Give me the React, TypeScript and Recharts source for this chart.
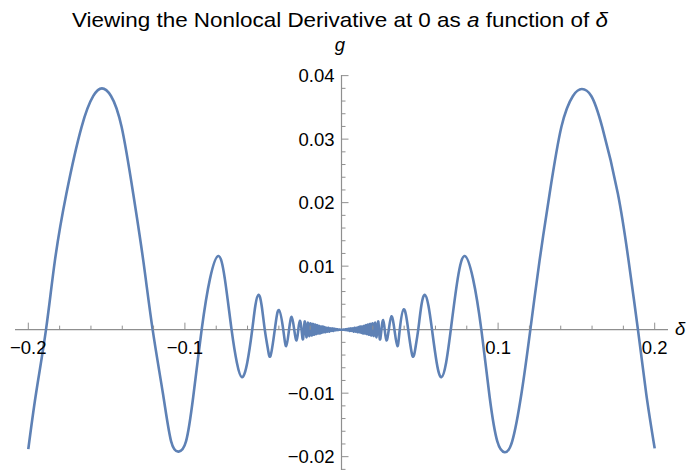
import React from 'react';
import { LineChart, Line, XAxis, YAxis, ReferenceLine, ReferenceDot } from 'recharts';

// g(δ) for δ < 0
const leftDelta = [
  -0.2, -0.1951, -0.1887, -0.183, -0.1757, -0.166, -0.1585, -0.153, -0.1472, -0.1404, -0.133, -0.1266,
  -0.1206, -0.114, -0.1088, -0.104, -0.0993, -0.0947, -0.0893, -0.084, -0.0787, -0.0745, -0.0702, -0.0668,
  -0.0636, -0.0602, -0.057, -0.055, -0.053, -0.051, -0.049, -0.0471, -0.0453, -0.0426,
  -0.04, -0.0372, -0.0353, -0.0335, -0.0318, -0.0302, -0.0287, -0.0276, -0.0266, -0.0255,
  -0.0245, -0.0234, -0.0224, -0.0215, -0.0206, -0.0198, -0.019, -0.0183, -0.0176, -0.0169,
  -0.0162, -0.0156, -0.015, -0.0144, -0.0138, -0.0132, -0.0126, -0.012, -0.0114, -0.0108,
  -0.0102, -0.0096, -0.009, -0.0084, -0.0078, -0.0072, -0.0066, -0.006, -0.0054, -0.0048,
  -0.0042, -0.0036, -0.003, -0.0024, -0.0018, -0.0012, -0.0006,
];
const leftG = [
  -0.0188, -0.0101, 0, 0.0109, 0.0214, 0.0319, 0.0368, 0.038, 0.0368, 0.0319, 0.0214, 0.0109,
  0, -0.0101, -0.0176, -0.0192, -0.0176, -0.0106, 0, 0.008, 0.0116, 0.008, 0, -0.0052,
  -0.0075, -0.0052, 0, 0.0038, 0.0055, 0.0038, 0, -0.0029, -0.0041, 0,
  0.0031, 0, -0.0026, 0, 0.002, 0, -0.0017, 0, 0.0014, 0,
  -0.0014, 0.0013, -0.0012, 0.0011, -0.001, 0.001, -0.0009, 0.0009, -0.0008, 0.0008,
  -0.0007, 0.0007, -0.0006, 0.0006, -0.0006, 0.0005, -0.0005, 0.0005, -0.0004, 0.0004,
  -0.0004, 0.0003, -0.0003, 0.0003, -0.0003, 0.0002, -0.0002, 0.0002, -0.0002, 0.00015,
  -0.00012, 0.0001, -0.00008, 0.00006, -0.00004, 0.00002, -0.00001,
];

// g(δ) for δ ≥ 0
const rightDelta = [
  0, 0.0006, 0.0012, 0.0018, 0.0024, 0.003, 0.0036, 0.0042, 0.0048, 0.0054,
  0.006, 0.0066, 0.0072, 0.0078, 0.0084, 0.009, 0.0096, 0.0102, 0.0108, 0.0114,
  0.012, 0.0126, 0.0132, 0.0138, 0.0144, 0.015, 0.0156, 0.0162, 0.0169, 0.0176,
  0.0183, 0.019, 0.0198, 0.0206, 0.0215, 0.0224, 0.0234, 0.0244, 0.0255, 0.0266,
  0.0276, 0.0287, 0.0302, 0.0319, 0.0338, 0.0357, 0.0372, 0.0398, 0.0426, 0.0453,
  0.0472, 0.049, 0.051, 0.0532, 0.0555, 0.0578, 0.0608, 0.0638, 0.0668, 0.0698,
  0.0742, 0.0787, 0.084, 0.0893, 0.0946, 0.0995, 0.1042, 0.109, 0.1149, 0.1206, 0.1265, 0.1329,
  0.1404, 0.1478, 0.1535, 0.1595, 0.1665, 0.1765, 0.1833, 0.1893, 0.1946, 0.2,
];
const rightG = [
  0, -0.00001, 0.00002, -0.00004, 0.00006, -0.00008, 0.0001, -0.00012, 0.00015, -0.0002,
  0.0002, -0.0002, 0.0002, -0.0003, 0.0003, -0.0003, 0.0003, -0.0004, 0.0004, -0.0004,
  0.0005, -0.0005, 0.0005, -0.0006, 0.0006, -0.0006, 0.0007, -0.0007, 0.0008, -0.0008,
  0.0009, -0.0009, 0.001, -0.001, 0.0011, -0.0012, 0.0013, -0.0014, 0, 0.0015,
  0, -0.0017, 0, 0.0021, 0, -0.0026, 0, 0.0032, 0, -0.0041,
  -0.0029, 0, 0.0038, 0.0055, 0.0038, 0, -0.0052, -0.0075, -0.0052, 0,
  0.008, 0.0116, 0.008, 0, -0.0106, -0.0176, -0.0193, -0.0176, -0.0101, 0, 0.0109, 0.0214,
  0.0319, 0.0368, 0.0379, 0.0368, 0.0319, 0.0214, 0.0109, 0, -0.0101, -0.0187,
];

const xMajorTicks = [-0.2, -0.1, 0.1, 0.2];
const xTickLabels = ['\u22120.2', '\u22120.1', '0.1', '0.2'];
const xMinorTicks = [
  -0.18, -0.16, -0.14, -0.12, -0.08, -0.06, -0.04, -0.02,
  0.02, 0.04, 0.06, 0.08, 0.12, 0.14, 0.16, 0.18,
];
const yMajorTicks = [0.04, 0.03, 0.02, 0.01, -0.01, -0.02];
const yTickLabels = ['0.04', '0.03', '0.02', '0.01', '\u22120.01', '\u22120.02'];
const yMinorTicks = [
  0.038, 0.036, 0.034, 0.032, 0.028, 0.026, 0.024, 0.022, 0.018, 0.016, 0.014, 0.012,
  0.008, 0.006, 0.004, 0.002, -0.002, -0.004, -0.006, -0.008, -0.012, -0.014, -0.016,
  -0.018, -0.022,
];

const curve = [
  ...leftDelta.map((d, i) => ({ d, g: leftG[i] })),
  ...rightDelta.map((d, i) => ({ d, g: rightG[i] })),
];

const AXIS = '#8f8f8f';
const FONT = '"Liberation Sans", Arial, Helvetica, sans-serif';
const LABEL_SIZE = 18.5;

export default function App() {
  return (
    <div style={{ position: 'absolute', left: 0, top: 0, width: 694, height: 470, background: '#fff' }}>
      <LineChart
        width={694}
        height={470}
        data={curve}
        margin={{ top: 75, right: 26, bottom: 0, left: 15 }}
      >
        <XAxis dataKey="d" type="number" domain={[-0.2085, 0.2085]} hide allowDataOverflow />
        <YAxis type="number" domain={[-0.0221, 0.0401]} hide allowDataOverflow />
        <ReferenceLine y={0} stroke={AXIS} strokeWidth={1.2} />
        <ReferenceLine x={0} stroke={AXIS} strokeWidth={1.2} />
        {xMinorTicks.map((v) => (
          <ReferenceDot
            key={'xm' + v}
            x={v}
            y={0}
            shape={(p: any) => (
              <line x1={p.cx} y1={p.cy} x2={p.cx} y2={p.cy - 4} stroke={AXIS} strokeWidth={1} />
            )}
          />
        ))}
        {xMajorTicks.map((v, i) => (
          <ReferenceDot
            key={'xM' + v}
            x={v}
            y={0}
            shape={(p: any) => (
              <g>
                <line x1={p.cx} y1={p.cy} x2={p.cx} y2={p.cy - 7} stroke={AXIS} strokeWidth={1} />
                <text
                  x={p.cx}
                  y={p.cy + 24.5}
                  textAnchor="middle"
                  fontFamily={FONT}
                  fontSize={LABEL_SIZE}
                  fill="#000"
                >
                  {xTickLabels[i]}
                </text>
              </g>
            )}
          />
        ))}
        {yMinorTicks.map((v) => (
          <ReferenceDot
            key={'ym' + v}
            x={0}
            y={v}
            shape={(p: any) => (
              <line x1={p.cx} y1={p.cy} x2={p.cx + 4} y2={p.cy} stroke={AXIS} strokeWidth={1} />
            )}
          />
        ))}
        {yMajorTicks.map((v, i) => (
          <ReferenceDot
            key={'yM' + v}
            x={0}
            y={v}
            shape={(p: any) => (
              <g>
                <line x1={p.cx} y1={p.cy} x2={p.cx + 7} y2={p.cy} stroke={AXIS} strokeWidth={1} />
                <text
                  x={p.cx - 7}
                  y={p.cy + 6.5}
                  textAnchor="end"
                  fontFamily={FONT}
                  fontSize={LABEL_SIZE}
                  fill="#000"
                >
                  {yTickLabels[i]}
                </text>
              </g>
            )}
          />
        ))}
        <Line
          type="natural"
          dataKey="g"
          stroke="#5E81B5"
          strokeWidth={2.6}
          dot={false}
          isAnimationActive={false}
        />
      </LineChart>
      <svg
        width={694}
        height={470}
        style={{ position: 'absolute', left: 0, top: 0, pointerEvents: 'none' }}
      >
        <text
          x={72}
          y={27}
          textLength={536}
          lengthAdjust="spacingAndGlyphs"
          fontFamily={FONT}
          fontSize={21}
          fill="#000"
        >
          Viewing the Nonlocal Derivative at 0 as <tspan fontStyle="italic">a</tspan> function of{' '}
          <tspan fontStyle="italic">δ</tspan>
        </text>
        <text x={340} y={51} textAnchor="middle" fontFamily={FONT} fontSize={18.5} fontStyle="italic" fill="#000">
          g
        </text>
        <text x={675} y={335} fontFamily={FONT} fontSize={18.5} fontStyle="italic" fill="#000">
          δ
        </text>
      </svg>
    </div>
  );
}
